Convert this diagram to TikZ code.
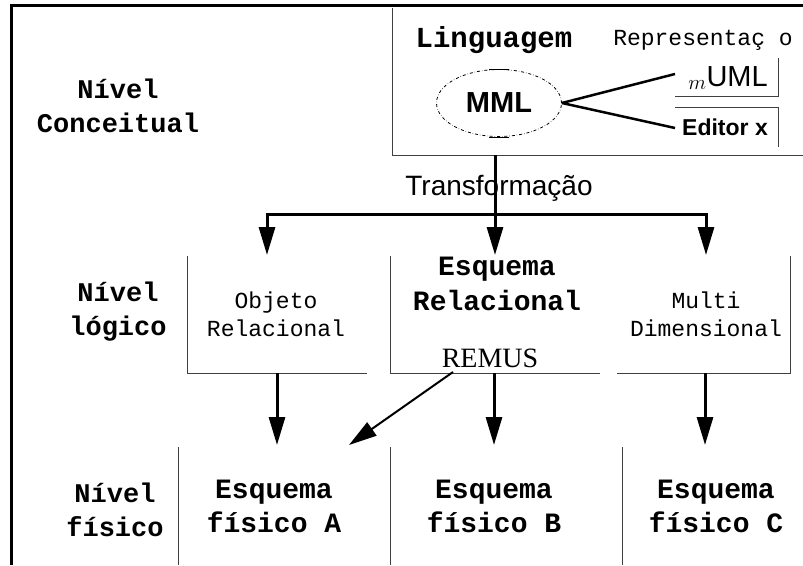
\documentclass[tikz,border=0pt]{standalone}
\usepackage{fontspec}
\setmainfont{Liberation Serif}
\setsansfont{Liberation Sans}
\setmonofont{Liberation Mono}
\usetikzlibrary{arrows.meta, shapes.geometric}

\begin{document}
\begin{tikzpicture}[
  x=1pt, y=-1pt,
  frame/.style={line width=3pt},
  wall/.style={draw=black!75, line width=1pt},
  flow/.style={line width=3pt, -{Triangle[length=28pt, width=16pt]}},
  branch/.style={line width=2.5pt},
  level/.style={font=\ttfamily\bfseries\fontsize{27}{34}\selectfont, align=center, inner sep=0pt},
  model/.style={font=\ttfamily\fontsize{23}{28}\selectfont, align=center, inner sep=0pt},
  schema/.style={font=\ttfamily\bfseries\fontsize{28}{34}\selectfont, align=center, inner sep=0pt},
  tool/.style={font=\sffamily\fontsize{23}{28}\selectfont, inner sep=0pt}
]
  \useasboundingbox (0,0) rectangle (803,565);
  \draw[frame] (11,565) -- (11,5) -- (803,5);

  \node[level] (conc) at (118,106) {Nível\\Conceitual};
  \node[level] (logi) at (118,312) {Nível\\lógico};
  \node[level] (fisi) at (115,510) {Nível\\físico};

  \draw[wall] (392,8) -- (392,155) -- (803,155);
  \node[font=\ttfamily\bfseries\fontsize{29}{34}\selectfont] (ling) at (494,40) {Linguagem};
  \node[font=\ttfamily\fontsize{23}{28}\selectfont] (repr) at (703,40) {Representaç o};
  \node[ellipse, draw, dash dot, line width=0.8pt, minimum width=125pt, minimum height=67pt,
        font=\sffamily\bfseries\fontsize{29}{32}\selectfont] (mml) at (499,103) {MML};
  \draw ([xshift=-10pt]mml.north) -- ([xshift=10pt]mml.north);
  \draw ([xshift=-10pt]mml.south) -- ([xshift=10pt]mml.south);
  \node[tool, font=\sffamily\fontsize{29}{32}\selectfont] (uml) at (728,78) {${}_{m}$UML};
  \node[tool, font=\sffamily\bfseries\fontsize{23}{28}\selectfont] (edit) at (725,127) {Editor x};
  \draw[wall] (675,96) -- (778,96) -- (778,58);
  \draw[wall] (675,107) -- (778,107) -- (778,147);
  \coordinate (umlIn) at (675,74);
  \coordinate (editIn) at (675,128);
  \draw[branch] (mml.east) -- (umlIn);
  \draw[branch] (mml.east) -- (editIn);

  \node[font=\sffamily\fontsize{28}{30}\selectfont] (trans) at (499,188) {Transformação};
  \coordinate (concOut) at (495,155);
  \coordinate (split) at (495,214);
  \coordinate (objIn) at (267,255);
  \coordinate (relIn) at (495,255);
  \coordinate (multIn) at (706,255);
  \draw[flow] (concOut) -- (relIn);
  \draw[flow] (split) -| (objIn);
  \draw[flow] (split) -| (multIn);

  \draw[wall] (187,256) -- (187,373) -- (367,373);
  \draw[wall] (390,256) -- (390,373) -- (600,373);
  \draw[wall] (790,256) -- (790,373) -- (617,373);
  \node[model] (obj) at (276,314) {Objeto\\Relacional};
  \node[schema, font=\ttfamily\bfseries\fontsize{28}{35}\selectfont] (esqrel) at (497,284) {Esquema\\Relacional};
  \node[model] (multi) at (706,314) {Multi\\Dimensional};
  \node[font=\rmfamily\fontsize{28}{30}\selectfont, inner sep=0pt] (remus) at (490,358) {REMUS};

  \coordinate (objOut) at (277,373);
  \coordinate (relOut) at (494,373);
  \coordinate (multOut) at (705,373);
  \coordinate (remusOut) at (453,372);
  \coordinate (fisAIn) at (277,445);
  \coordinate (fisBIn) at (494,445);
  \coordinate (fisCIn) at (705,445);
  \coordinate (fisAEdge) at (349,445);
  \foreach \a/\b in {objOut/fisAIn, relOut/fisBIn, multOut/fisCIn}
    \draw[flow] (\a) -- (\b);
  \draw[flow, line width=2pt] (remusOut) -- (fisAEdge);

  \foreach \x in {178,390,622}
    \draw[wall] (\x,447) -- (\x,565);
  \node[schema] (fisA) at (274,506) {Esquema\\físico A};
  \node[schema] (fisB) at (494,506) {Esquema\\físico B};
  \node[schema] (fisC) at (716,506) {Esquema\\físico C};
\end{tikzpicture}
\end{document}
